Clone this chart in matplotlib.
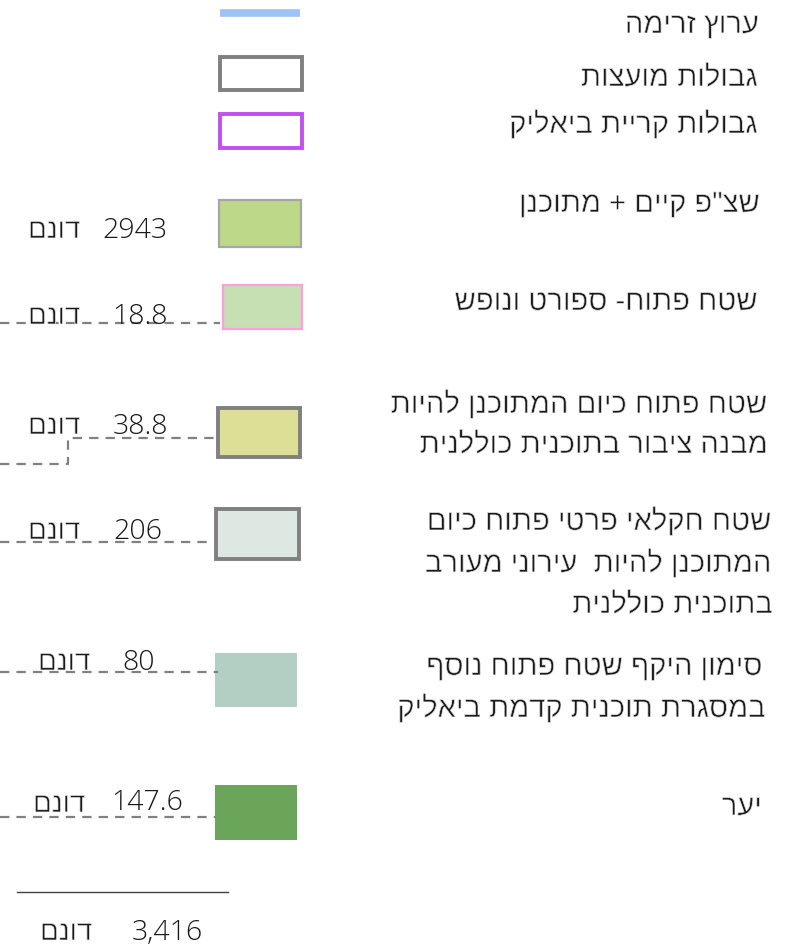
import matplotlib
matplotlib.use("Agg")
import matplotlib.pyplot as plt
from matplotlib.patches import Rectangle
import matplotlib.patheffects as pe

plt.rcParams['font.family'] = ['Liberation Sans', 'DejaVu Sans']

# ---------------- data ----------------
top_labels = ['ערוץ זרימה', 'גבולות מועצות', 'גבולות קריית ביאליק']
area_labels = [
    ['שצ"פ קיים + מתוכנן'],
    ['שטח פתוח- ספורט ונופש'],
    ['שטח פתוח כיום המתוכנן להיות', 'מבנה ציבור בתוכנית כוללנית'],
    ['שטח חקלאי פרטי פתוח כיום', 'המתוכנן להיות  עירוני מעורב', 'בתוכנית כוללנית'],
    ['סימון היקף שטח פתוח נוסף', 'במסגרת תוכנית קדמת ביאליק'],
    ['יער'],
]
area_values = [2943, 18.8, 38.8, 206, 80, 147.6]
total_value = 3416
unit = 'דונם'

# ---------------- layout / style ----------------
W, H = 792, 950
fig = plt.figure(figsize=(W / 100, H / 100), dpi=100)
ax = fig.add_axes([0, 0, 1, 1])
ax.set_xlim(0, W)
ax.set_ylim(H, 0)
ax.axis('off')

def vis(s):
    """Hebrew logical -> visual order for LTR renderer."""
    return s[::-1]

thin = [pe.Normal(), pe.Stroke(linewidth=0.5, foreground='white')]
HEB = dict(family=['Liberation Sans', 'DejaVu Sans'], color='#1a1a1a', path_effects=thin)
NUM = dict(family=['Open Sans', 'DejaVu Sans'], fontweight='light', color='#1a1a1a')
LABEL_FS = 21
UNIT_FS = 20
NUM_FS = 20.5

# top legend items
ax.plot([220, 300], [13, 13], color='#9dc3f5', lw=5.5, solid_capstyle='butt')
ax.add_patch(Rectangle((219.5, 56.5), 82, 33, fill=False, ec='#808080', lw=2.8))
ax.add_patch(Rectangle((219.5, 113.5), 82, 34, fill=False, ec='#c24ff0', lw=2.8))

top_base = [33, 86, 133]
top_right = [759, 758, 758]
for lab, yb, xr in zip(top_labels, top_base, top_right):
    ax.text(xr, yb, vis(lab), ha='right', va='baseline', fontsize=LABEL_FS, **HEB)

# area swatches: (x0, y0, w, h, face, edge, lw)
swatches = [
    (219, 200, 82, 47, '#bdd889', '#a6a6a6', 1.6),
    (223, 285, 79, 44, '#c6e0b4', '#ff9ee0', 1.6),
    (217.5, 407.5, 82, 49, '#dedf96', '#808080', 2.8),
    (215.5, 508.5, 83, 50, '#dce8e1', '#808080', 2.8),
    (215, 653, 82, 54, '#b3cec2', 'none', 0),
    (215, 785, 82, 55, '#6aa55a', 'none', 0),
]
for (x0, y0, w, h, fc, ec, lw) in swatches:
    ax.add_patch(Rectangle((x0, y0), w, h, fc=fc, ec=ec, lw=lw))

label_base = [[212], [310], [413, 453], [530, 572, 613], [675, 717], [815]]
label_right = [[760], [758], [768, 768], [772, 772, 773], [763, 766], [762]]
for lines, ybs, xrs in zip(area_labels, label_base, label_right):
    for ln, yb, xr in zip(lines, ybs, xrs):
        ax.text(xr, yb, vis(ln), ha='right', va='baseline', fontsize=LABEL_FS, **HEB)

# leader lines (dashed)
dash = dict(color='#808080', lw=1.6, ls=(0, (4.2, 3.2)))
ax.plot([0, 220], [323, 323], **dash)
ax.plot([0, 68, 68, 214], [464, 464, 438, 438], **dash)
ax.plot([0, 212], [542, 542], **dash)
ax.plot([0, 218], [672, 672], **dash)
ax.plot([0, 215], [817, 817], **dash)

# values
num_right = [168, 168, 168, 162, 155, 183]
num_base = [238, 324, 434, 539, 670, 810]
unit_left = [28, 28, 28, 28, 38, 33]
unit_base = [238, 324, 434, 539, 670, 812]
for v, xr, yb, xu, yu in zip(area_values, num_right, num_base, unit_left, unit_base):
    ax.text(xr, yb, f'{v:g}', ha='right', va='baseline', fontsize=NUM_FS, **NUM)
    ax.text(xu, yu, vis(unit), ha='left', va='baseline', fontsize=UNIT_FS, **HEB)

# total
ax.plot([17, 228], [892, 892], color='#404040', lw=1.0)
ax.text(203, 940, f'{total_value:,}', ha='right', va='baseline', fontsize=NUM_FS, **NUM)
ax.text(40, 940, vis(unit), ha='left', va='baseline', fontsize=UNIT_FS, **HEB)

fig.savefig('out.png', dpi=100, facecolor='white')
